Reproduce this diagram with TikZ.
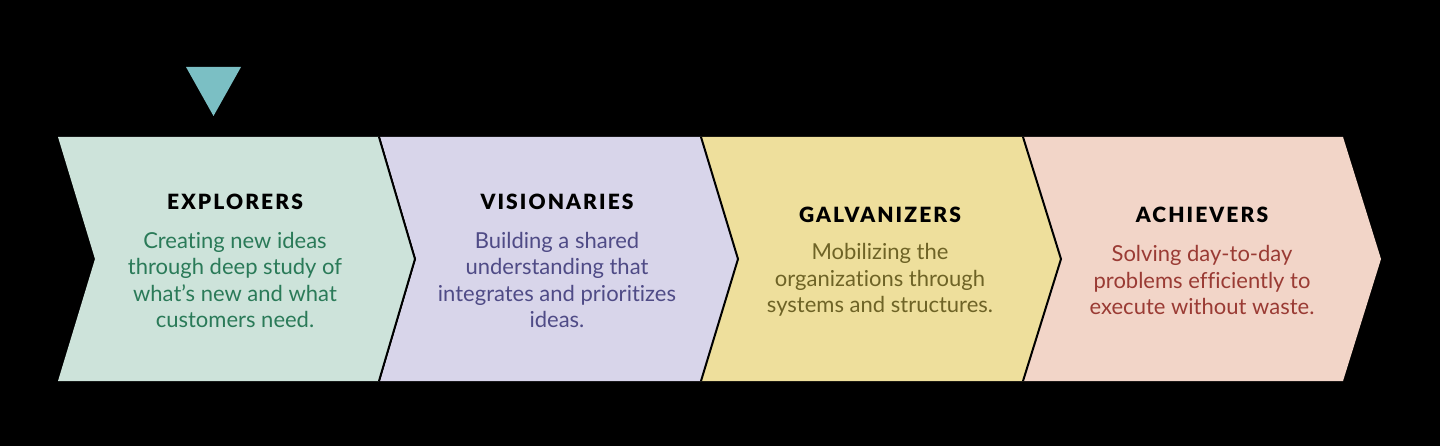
\documentclass[tikz,border=0pt]{standalone}
\usepackage{fontspec}
\setmainfont[Ligatures=NoCommon]{Lato}
\newfontfamily\titlefont[LetterSpace=10]{Lato Black}
\definecolor{bgc}{HTML}{000000}
\definecolor{c1}{HTML}{CDE3DA}
\definecolor{c2}{HTML}{D8D5EA}
\definecolor{c3}{HTML}{EEDF9C}
\definecolor{c4}{HTML}{F2D5C8}
\definecolor{t1}{HTML}{2A7A58}
\definecolor{t2}{HTML}{4F4B86}
\definecolor{t3}{HTML}{6E6326}
\definecolor{t4}{HTML}{9A3B34}
\definecolor{tri}{HTML}{7BBFC4}
\tikzset{
  ttl/.style={font=\titlefont\fontsize{21}{24}\selectfont, text=black, anchor=center, inner sep=0pt},
  body/.style={font=\fontsize{22}{26.3}\selectfont, align=center, anchor=center, inner sep=0pt},
  divider/.style={draw=black, line width=2pt}
}
\begin{document}
\begin{tikzpicture}[x=1pt,y=-1pt]
\fill[bgc] (0,0) rectangle (1440,446);
\useasboundingbox (0,0) rectangle (1440,446);
% chevrons
\fill[c1] (58,137) -- (379,137) -- (415,259) -- (379,381) -- (58,381) -- (95,259) -- cycle;
\fill[c2] (380,137) -- (701,137) -- (738,259) -- (701,381) -- (380,381) -- (416,259) -- cycle;
\fill[c3] (701,137) -- (1023,137) -- (1061,259) -- (1023,381) -- (701,381) -- (738,259) -- cycle;
\fill[c4] (1023,137) -- (1343,137) -- (1381,259) -- (1343,381) -- (1023,381) -- (1061,259) -- cycle;
\coordinate (d1a) at (379,137); \coordinate (d1b) at (415,259); \coordinate (d1c) at (379,381);
\coordinate (d2a) at (701,137); \coordinate (d2b) at (738,259); \coordinate (d2c) at (701,381);
\coordinate (d3a) at (1023,137); \coordinate (d3b) at (1061,259); \coordinate (d3c) at (1023,381);
\draw[divider] (d1a) -- (d1b) -- (d1c);
\draw[divider] (d2a) -- (d2b) -- (d2c);
\draw[divider] (d3a) -- (d3b) -- (d3c);
% marker
\fill[tri] (186,67) -- (241,67) -- (213.5,116) -- cycle;
% texts
\node[ttl] (h1) at (235,202) {EXPLORERS};
\node[body, text=t1] (b1) at (235,280) {Creating new ideas\\through deep study of\\what’s new and what\\customers need.};
\node[ttl] (h2) at (557,202) {VISIONARIES};
\node[body, text=t2] (b2) at (557,280) {Building a shared\\understanding that\\integrates and prioritizes\\ideas.};
\node[ttl] (h3) at (880,215) {GALVANIZERS};
\node[body, text=t3] (b3) at (880,280) {Mobilizing the\\organizations through\\systems and structures.};
\node[ttl] (h4) at (1202,215) {ACHIEVERS};
\node[body, text=t4] (b4) at (1202,280) {Solving day-to-day\\problems efficiently to\\execute without waste.};
\end{tikzpicture}
\end{document}
